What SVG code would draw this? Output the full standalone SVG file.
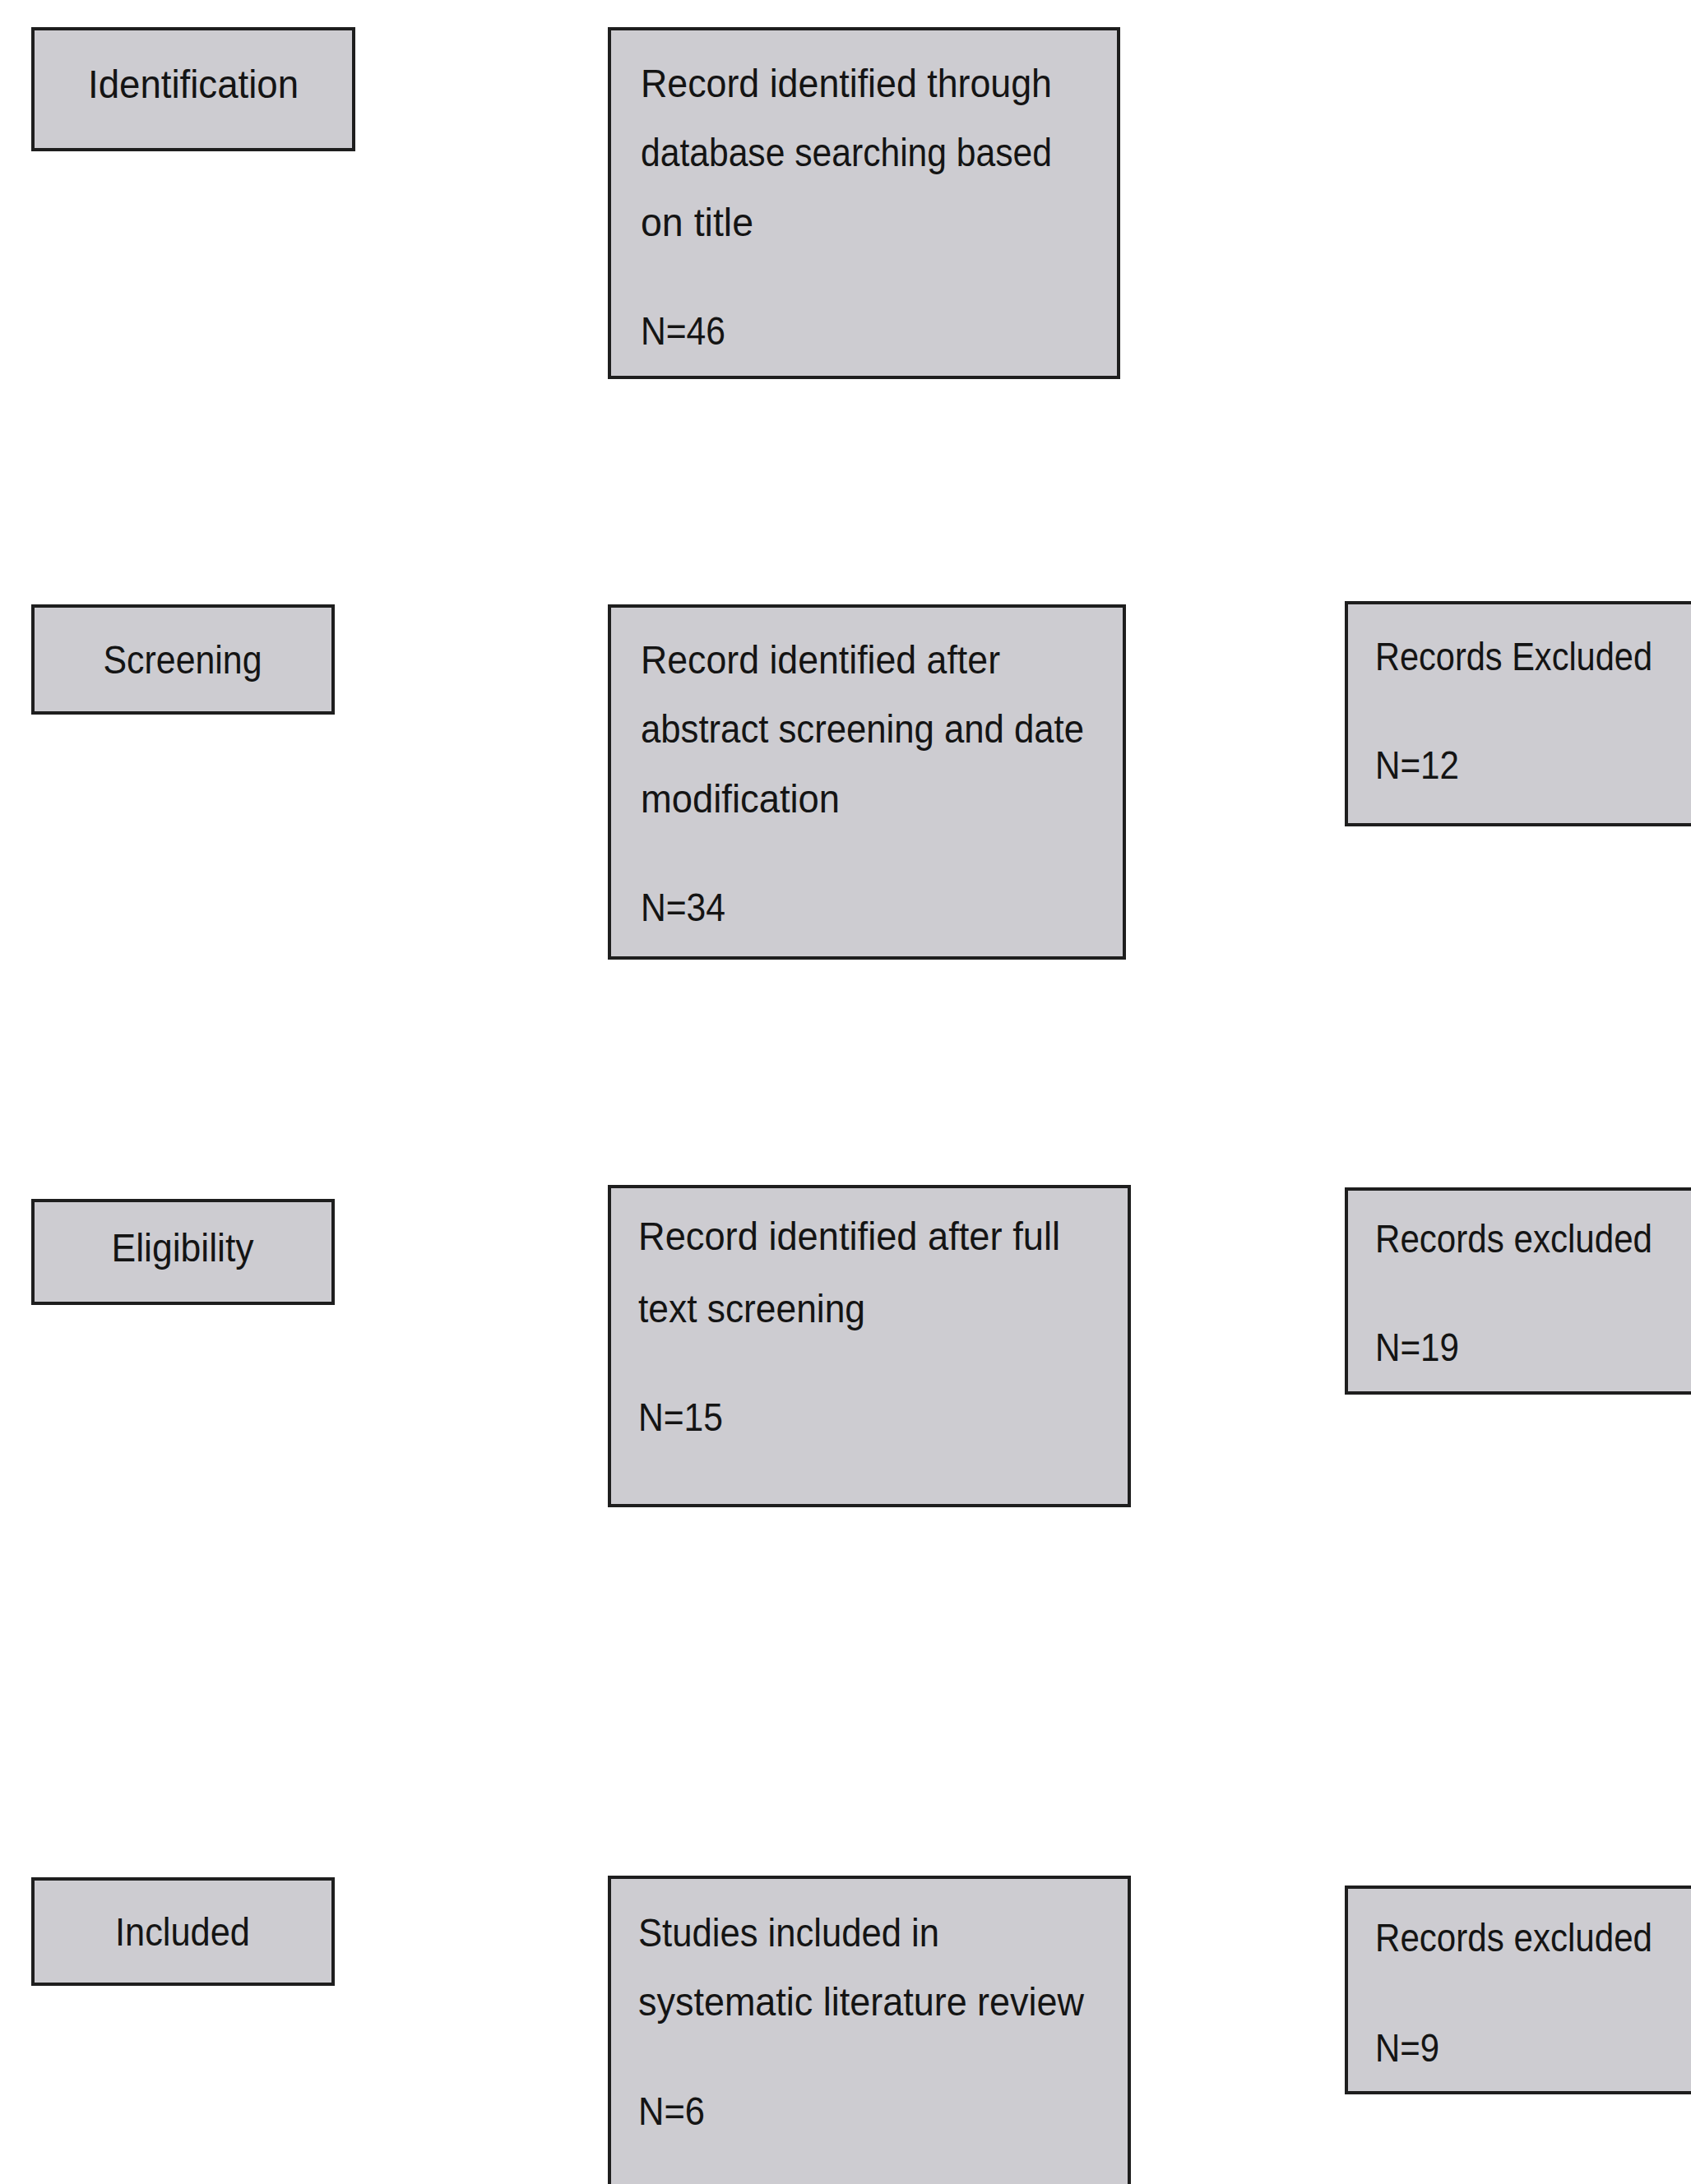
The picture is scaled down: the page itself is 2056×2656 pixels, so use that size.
<svg xmlns="http://www.w3.org/2000/svg" width="2056" height="2656" viewBox="0 0 2056 2656">
<style>
.box{fill:#cdccd1;stroke:#1e1e1e;stroke-width:4}
.t{font-family:"Liberation Sans",Arial,sans-serif;font-size:48px;fill:#141414}
.c{text-anchor:middle}
</style>
<rect width="2056" height="2656" fill="#ffffff"/>
<g id="connectors"></g>
<g id="identification"><rect class="box" x="40" y="35" width="390" height="147"/><text class="t c" x="235" y="119" textLength="256" lengthAdjust="spacingAndGlyphs">Identification</text></g>
<g id="screening"><rect class="box" x="40" y="737" width="365" height="130"/><text class="t c" x="222" y="819" textLength="193" lengthAdjust="spacingAndGlyphs">Screening</text></g>
<g id="eligibility"><rect class="box" x="40" y="1460" width="365" height="125"/><text class="t c" x="222" y="1534" textLength="173" lengthAdjust="spacingAndGlyphs">Eligibility</text></g>
<g id="included"><rect class="box" x="40" y="2285" width="365" height="128"/><text class="t c" x="222" y="2366" textLength="164" lengthAdjust="spacingAndGlyphs">Included</text></g>
<g id="records-46"><rect class="box" x="741" y="35" width="619" height="424"/>
<text class="t" x="779" y="118" textLength="500" lengthAdjust="spacingAndGlyphs">Record identified through</text>
<text class="t" x="779" y="202" textLength="500" lengthAdjust="spacingAndGlyphs">database searching based</text>
<text class="t" x="779" y="287" textLength="137" lengthAdjust="spacingAndGlyphs">on title</text>
<text class="t" x="779" y="419" textLength="103" lengthAdjust="spacingAndGlyphs">N=46</text></g>
<g id="records-34"><rect class="box" x="741" y="737" width="626" height="428"/>
<text class="t" x="779" y="819" textLength="437" lengthAdjust="spacingAndGlyphs">Record identified after</text>
<text class="t" x="779" y="903" textLength="539" lengthAdjust="spacingAndGlyphs">abstract screening and date</text>
<text class="t" x="779" y="988" textLength="242" lengthAdjust="spacingAndGlyphs">modification</text>
<text class="t" x="779" y="1120" textLength="103" lengthAdjust="spacingAndGlyphs">N=34</text></g>
<g id="records-15"><rect class="box" x="741" y="1443" width="632" height="388"/>
<text class="t" x="776" y="1520" textLength="513" lengthAdjust="spacingAndGlyphs">Record identified after full</text>
<text class="t" x="776" y="1608" textLength="276" lengthAdjust="spacingAndGlyphs">text screening</text>
<text class="t" x="776" y="1740" textLength="103" lengthAdjust="spacingAndGlyphs">N=15</text></g>
<g id="studies-6"><rect class="box" x="741" y="2283" width="632" height="420"/>
<text class="t" x="776" y="2367" textLength="366" lengthAdjust="spacingAndGlyphs">Studies included in</text>
<text class="t" x="776" y="2451" textLength="542" lengthAdjust="spacingAndGlyphs">systematic literature review</text>
<text class="t" x="776" y="2584" textLength="81" lengthAdjust="spacingAndGlyphs">N=6</text></g>
<g id="excluded-12"><rect class="box" x="1637" y="733" width="440" height="270"/>
<text class="t" x="1672" y="815" textLength="337" lengthAdjust="spacingAndGlyphs">Records Excluded</text>
<text class="t" x="1672" y="947" textLength="102" lengthAdjust="spacingAndGlyphs">N=12</text></g>
<g id="excluded-19"><rect class="box" x="1637" y="1446" width="440" height="248"/>
<text class="t" x="1672" y="1523" textLength="337" lengthAdjust="spacingAndGlyphs">Records excluded</text>
<text class="t" x="1672" y="1655" textLength="102" lengthAdjust="spacingAndGlyphs">N=19</text></g>
<g id="excluded-9"><rect class="box" x="1637" y="2295" width="440" height="250"/>
<text class="t" x="1672" y="2373" textLength="337" lengthAdjust="spacingAndGlyphs">Records excluded</text>
<text class="t" x="1672" y="2507" textLength="78" lengthAdjust="spacingAndGlyphs">N=9</text></g>
</svg>
